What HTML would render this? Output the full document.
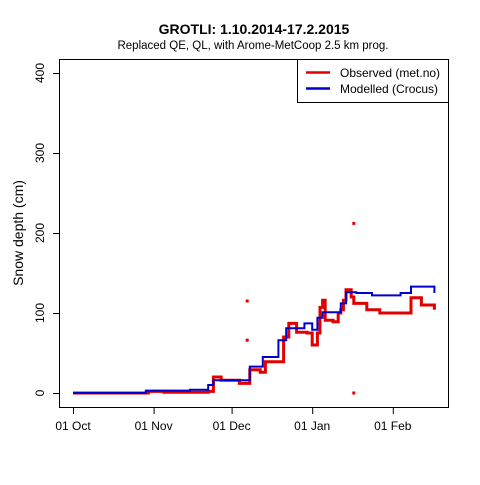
<!DOCTYPE html>
<html><head><meta charset="utf-8"><style>
body{margin:0;background:#fff;}
svg text{font-family:"Liberation Sans",sans-serif;}
</style></head><body>
<svg id="c" width="480" height="480" viewBox="0 0 480 480" xmlns="http://www.w3.org/2000/svg">
<rect width="480" height="480" fill="#fff"/>
<text x="254" y="34" text-anchor="middle" font-size="14" font-weight="bold">GROTLI: 1.10.2014-17.2.2015</text>
<text x="253" y="49" text-anchor="middle" font-size="11.5">Replaced QE, QL,  with Arome-MetCoop 2.5 km prog.</text>
<rect x="59.5" y="59.5" width="389" height="348" fill="none" stroke="#000"/>
<g id="axes"></g>
<g id="series"></g>
<text transform="translate(23,233) rotate(-90)" text-anchor="middle" font-size="14">Snow depth (cm)</text>
<g>
<rect x="297.5" y="59.5" width="151" height="43" fill="#fff" stroke="#000"/>
<line x1="306" y1="72.5" x2="330" y2="72.5" stroke="#e00000" stroke-width="2.5"/>
<text x="340" y="77" font-size="12">Observed (met.no)</text>
<line x1="306" y1="88.5" x2="330" y2="88.5" stroke="#0000cc" stroke-width="2.5"/>
<text x="340" y="93" font-size="12">Modelled (Crocus)</text>
</g>
</svg>
<script>
const yTicks=[0,100,200,300,400];
const xTickDays=[0,31,61,92,123];
const xTickLabels=["01 Oct","01 Nov","01 Dec","01 Jan","01 Feb"];
const obsDays=[0,29,35,52,54,57,64,68,72,74,80,81,83,86,90,92,94,95,96,97,100,102,103,104,105,107,108,110,113,118,126,130,134,139];
const obsVals=[0,2,1,2,20,16,12,29,26,39,39,70,87,76,75,60,75,107,116,91,89,100,104,116,129,120,112,112,104,100,100,119,110,104];
const modDays=[0,28,45,52,54,65,68,73,79,82,86,89,92,94,96,102,103,105,109,115,126,130,139];
const modVals=[0,3,4,10,16,16,33,45,66,81,81,87,79,94,101,101,112,126,125,122,125,133,125];
const outDays=[67,67,108,108];
const outVals=[115,66,0,212];
const X=d=>73+d*2.6, Y=v=>393-v*0.8;
const NS="http://www.w3.org/2000/svg";
const ax=document.getElementById('axes'), sr=document.getElementById('series');
function mk(t,a,p){const e=document.createElementNS(NS,t);for(const k in a)e.setAttribute(k,a[k]);p.appendChild(e);return e;}
yTicks.forEach(v=>{
 const l=mk('line',{x1:53,x2:59.5,y1:Y(v)+.5,y2:Y(v)+.5,stroke:'#000'},ax);
 
 
 const t=mk('text',{transform:`translate(44,${Y(v)}) rotate(-90)`,'text-anchor':'middle','font-size':12},ax);
 t.textContent=v;
 
 
});
xTickDays.forEach((d,i)=>{
 const l=mk('line',{x1:X(d)+.5,x2:X(d)+.5,y1:407.5,y2:414,stroke:'#000'},ax);
 
 
 const t=mk('text',{x:X(d),y:430,'text-anchor':'middle','font-size':12},ax);
 t.textContent=xTickLabels[i];
 
 
});
function step(ds,vs){let p=`M${X(ds[0])},${Y(vs[0])}`;for(let i=1;i<ds.length;i++){p+=`H${X(ds[i])}V${Y(vs[i])}`;}return p;}
const o=mk('path',{d:step(obsDays,obsVals),fill:'none',stroke:'#e00000','stroke-width':3},sr);


const m=mk('path',{d:step(modDays,modVals),fill:'none',stroke:'#0000cc','stroke-width':2},sr);


outDays.forEach((d,i)=>{
 const r=mk('rect',{x:X(d)-1.5,y:Y(outVals[i])-1.5,width:3,height:3,fill:'#e00000'},sr);
 
 
});
</script>
</body></html>
